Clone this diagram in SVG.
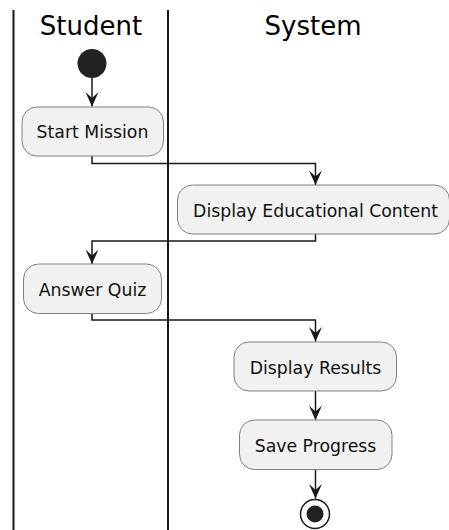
<svg xmlns="http://www.w3.org/2000/svg" width="449" height="530" viewBox="0 0 449 530">
  <style>
    .lane { stroke: #181818; stroke-width: 2; fill: none; }
    .title { font-family: "DejaVu Sans", sans-serif; font-size: 26px; fill: #000; text-anchor: middle; }
    .act rect { fill: #F1F1F1; stroke: #808080; stroke-width: 1; }
    .act text { font-family: "DejaVu Sans", sans-serif; font-size: 17.3px; fill: #111; text-anchor: middle; }
    .flow { stroke: #181818; stroke-width: 1.5; fill: none; marker-end: url(#arrow); }
  </style>
  <defs>
    <!-- open-backed arrowhead, tip at the path end -->
    <marker id="arrow" markerUnits="userSpaceOnUse" viewBox="-15 -8 16 16" refX="0" refY="0" markerWidth="16" markerHeight="16" orient="auto">
      <path d="M0,0 L-14.5,-6.5 L-8.5,0 L-14.5,6.5 Z" fill="#181818"/>
    </marker>
  </defs>

  <!-- swimlane separators -->
  <g id="lanes">
    <line class="lane" x1="13.5" y1="10" x2="13.5" y2="530"/>
    <line class="lane" x1="168" y1="10" x2="168" y2="530"/>
    <text class="title" x="91" y="35">Student</text>
    <text class="title" x="313" y="35">System</text>
  </g>

  <!-- flows -->
  <g id="connectors">
    <path class="flow" d="M92,78 V106.5"/>
    <path class="flow" d="M92,156 V163.5 H315.5 V185"/>
    <path class="flow" d="M315.5,234 V241 H92 V264"/>
    <path class="flow" d="M92,313.5 V320 H315.5 V341.5"/>
    <path class="flow" d="M315.5,391 V420"/>
    <path class="flow" d="M315.5,469.5 V498.5"/>
  </g>

  <g id="start">
    <circle cx="92" cy="63.5" r="14.5" fill="#222222"/>
  </g>

  <g id="start-mission" class="act">
    <rect x="22" y="107" width="141.5" height="49" rx="15" ry="15"/>
    <text x="92.5" y="138">Start Mission</text>
  </g>

  <g id="display-content" class="act">
    <rect x="177.5" y="185" width="272" height="49" rx="15" ry="15"/>
    <text x="315.5" y="217">Display Educational Content</text>
  </g>

  <g id="answer-quiz" class="act">
    <rect x="23.5" y="264" width="138" height="49.5" rx="15" ry="15"/>
    <text x="92.5" y="295.5">Answer Quiz</text>
  </g>

  <g id="display-results" class="act">
    <rect x="234" y="342" width="162.5" height="49" rx="15" ry="15"/>
    <text x="315.5" y="373.5">Display Results</text>
  </g>

  <g id="save-progress" class="act">
    <rect x="239.5" y="420" width="152.5" height="49.5" rx="15" ry="15"/>
    <text x="315.5" y="452">Save Progress</text>
  </g>

  <g id="end">
    <circle cx="315" cy="514" r="14.5" fill="none" stroke="#181818" stroke-width="1.5"/>
    <circle cx="315" cy="514" r="8.5" fill="#222222"/>
  </g>
</svg>
